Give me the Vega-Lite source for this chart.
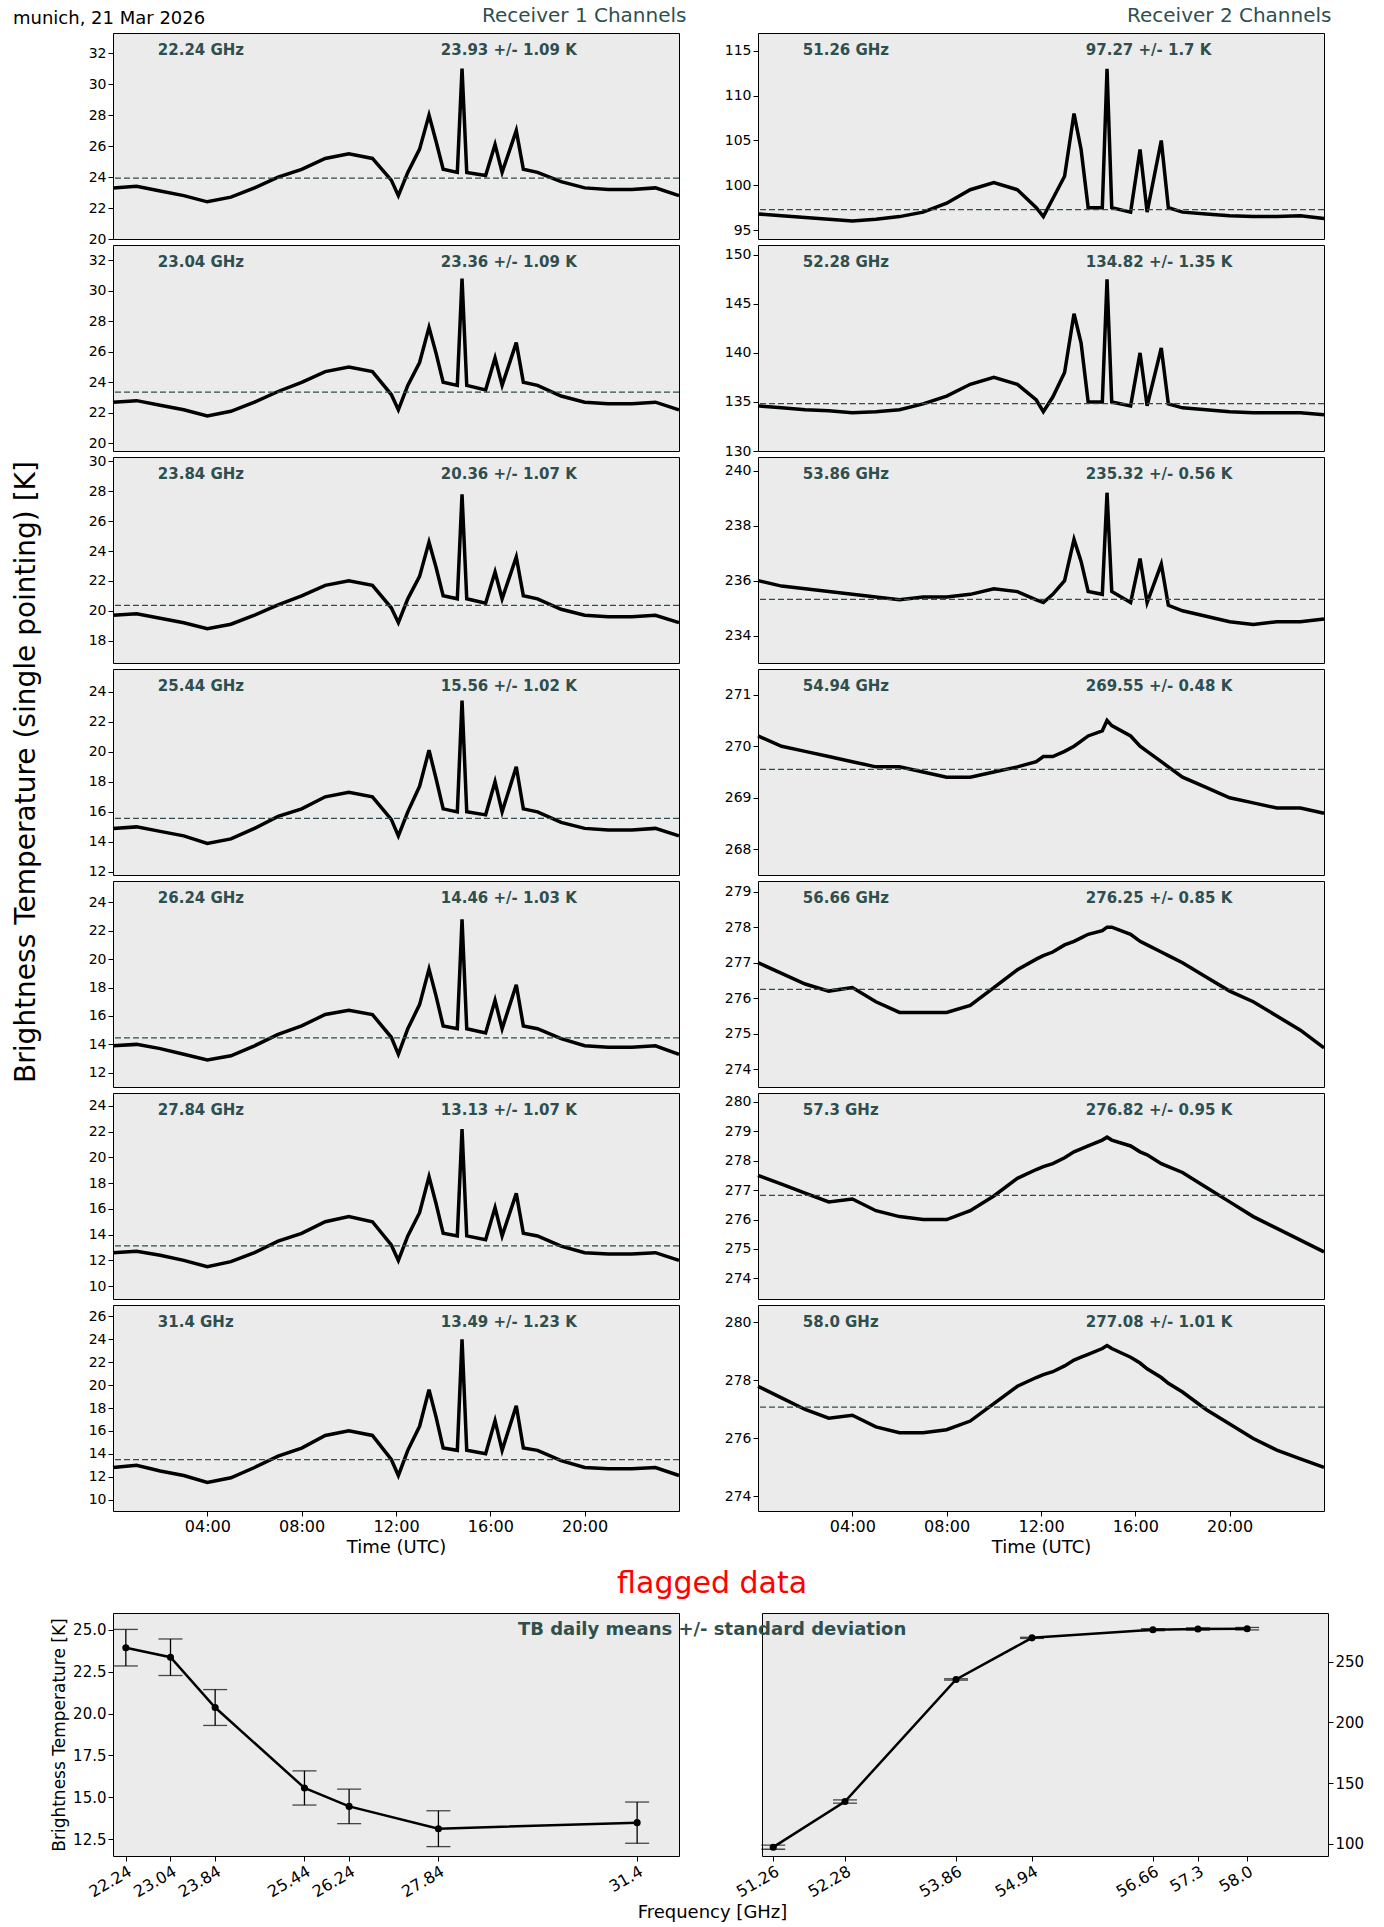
{
  "$schema": "https://vega.github.io/schema/vega-lite/v6.json",
  "background": "white",
  "padding": {"left": 12, "top": 5, "right": 5, "bottom": 5},
  "config": {
    "font": "DejaVu Sans",
    "view": {"fill": "#ebebeb", "stroke": "black"},
    "axis": {"grid": false, "labelColor": "black", "tickColor": "black", "domain": false, "labelFontSize": 14, "titleFontWeight": "normal", "titleColor": "black"}
  },
  "title": {"text": "munich, 21 Mar 2026", "anchor": "start", "fontSize": 18, "fontWeight": "normal", "color": "black", "dy": 26},
  "datasets": {
    "info": [
      {"k": "a1", "label": "22.24 GHz", "mean": 23.93, "txt": "23.93 +/- 1.09 K", "lo": 20, "hi": 33.3},
      {"k": "a2", "label": "23.04 GHz", "mean": 23.36, "txt": "23.36 +/- 1.09 K", "lo": 19.5, "hi": 33},
      {"k": "a3", "label": "23.84 GHz", "mean": 20.36, "txt": "20.36 +/- 1.07 K", "lo": 16.5, "hi": 30.3},
      {"k": "a4", "label": "25.44 GHz", "mean": 15.56, "txt": "15.56 +/- 1.02 K", "lo": 11.8, "hi": 25.5},
      {"k": "a5", "label": "26.24 GHz", "mean": 14.46, "txt": "14.46 +/- 1.03 K", "lo": 11, "hi": 25.5},
      {"k": "a6", "label": "27.84 GHz", "mean": 13.13, "txt": "13.13 +/- 1.07 K", "lo": 9, "hi": 25},
      {"k": "a7", "label": "31.4 GHz", "mean": 13.49, "txt": "13.49 +/- 1.23 K", "lo": 9, "hi": 27},
      {"k": "b1", "label": "51.26 GHz", "mean": 97.27, "txt": "97.27 +/- 1.7 K", "lo": 94, "hi": 117},
      {"k": "b2", "label": "52.28 GHz", "mean": 134.82, "txt": "134.82 +/- 1.35 K", "lo": 130, "hi": 151},
      {"k": "b3", "label": "53.86 GHz", "mean": 235.32, "txt": "235.32 +/- 0.56 K", "lo": 233, "hi": 240.5},
      {"k": "b4", "label": "54.94 GHz", "mean": 269.55, "txt": "269.55 +/- 0.48 K", "lo": 267.5, "hi": 271.5},
      {"k": "b5", "label": "56.66 GHz", "mean": 276.25, "txt": "276.25 +/- 0.85 K", "lo": 273.5, "hi": 279.3},
      {"k": "b6", "label": "57.3 GHz", "mean": 276.82, "txt": "276.82 +/- 0.95 K", "lo": 273.3, "hi": 280.3},
      {"k": "b7", "label": "58.0 GHz", "mean": 277.08, "txt": "277.08 +/- 1.01 K", "lo": 273.5, "hi": 280.6}
    ],
    "ts": [
      {"t": 0, "a1": 23.3, "a2": 22.7, "a3": 19.7, "a4": 14.9, "a5": 13.9, "a6": 12.6, "a7": 12.8, "b1": 96.8, "b2": 134.6, "b3": 236.0, "b4": 270.2, "b5": 277.0, "b6": 277.5, "b7": 277.8},
      {"t": 1, "a1": 23.4, "a2": 22.8, "a3": 19.8, "a4": 15.0, "a5": 14.0, "a6": 12.7, "a7": 13.0, "b1": 96.6, "b2": 134.4, "b3": 235.8, "b4": 270.0, "b5": 276.7, "b6": 277.2, "b7": 277.4},
      {"t": 2, "a1": 23.1, "a2": 22.5, "a3": 19.5, "a4": 14.7, "a5": 13.7, "a6": 12.4, "a7": 12.5, "b1": 96.4, "b2": 134.2, "b3": 235.7, "b4": 269.9, "b5": 276.4, "b6": 276.9, "b7": 277.0},
      {"t": 3, "a1": 22.8, "a2": 22.2, "a3": 19.2, "a4": 14.4, "a5": 13.3, "a6": 12.0, "a7": 12.1, "b1": 96.2, "b2": 134.1, "b3": 235.6, "b4": 269.8, "b5": 276.2, "b6": 276.6, "b7": 276.7},
      {"t": 4, "a1": 22.4, "a2": 21.8, "a3": 18.8, "a4": 13.9, "a5": 12.9, "a6": 11.5, "a7": 11.5, "b1": 96.0, "b2": 133.9, "b3": 235.5, "b4": 269.7, "b5": 276.3, "b6": 276.7, "b7": 276.8},
      {"t": 5, "a1": 22.7, "a2": 22.1, "a3": 19.1, "a4": 14.2, "a5": 13.2, "a6": 11.9, "a7": 11.9, "b1": 96.2, "b2": 134.0, "b3": 235.4, "b4": 269.6, "b5": 275.9, "b6": 276.3, "b7": 276.4},
      {"t": 6, "a1": 23.3, "a2": 22.7, "a3": 19.7, "a4": 14.9, "a5": 13.9, "a6": 12.6, "a7": 12.8, "b1": 96.5, "b2": 134.2, "b3": 235.3, "b4": 269.6, "b5": 275.6, "b6": 276.1, "b7": 276.2},
      {"t": 7, "a1": 24.0, "a2": 23.4, "a3": 20.4, "a4": 15.7, "a5": 14.7, "a6": 13.5, "a7": 13.8, "b1": 97.0, "b2": 134.8, "b3": 235.4, "b4": 269.5, "b5": 275.6, "b6": 276.0, "b7": 276.2},
      {"t": 8, "a1": 24.5, "a2": 24.0, "a3": 21.0, "a4": 16.2, "a5": 15.3, "a6": 14.1, "a7": 14.5, "b1": 98.0, "b2": 135.6, "b3": 235.4, "b4": 269.4, "b5": 275.6, "b6": 276.0, "b7": 276.3},
      {"t": 9, "a1": 25.2, "a2": 24.7, "a3": 21.7, "a4": 17.0, "a5": 16.1, "a6": 15.0, "a7": 15.6, "b1": 99.5, "b2": 136.8, "b3": 235.5, "b4": 269.4, "b5": 275.8, "b6": 276.3, "b7": 276.6},
      {"t": 10, "a1": 25.5, "a2": 25.0, "a3": 22.0, "a4": 17.3, "a5": 16.4, "a6": 15.4, "a7": 16.0, "b1": 100.3, "b2": 137.5, "b3": 235.7, "b4": 269.5, "b5": 276.3, "b6": 276.8, "b7": 277.2},
      {"t": 11, "a1": 25.2, "a2": 24.7, "a3": 21.7, "a4": 17.0, "a5": 16.1, "a6": 15.0, "a7": 15.6, "b1": 99.5, "b2": 136.8, "b3": 235.6, "b4": 269.6, "b5": 276.8, "b6": 277.4, "b7": 277.8},
      {"t": 11.8, "a1": 23.8, "a2": 23.2, "a3": 20.2, "a4": 15.5, "a5": 14.5, "a6": 13.2, "a7": 13.5, "b1": 97.5, "b2": 135.2, "b3": 235.3, "b4": 269.7, "b5": 277.1, "b6": 277.7, "b7": 278.1},
      {"t": 12.1, "a1": 22.8, "a2": 22.2, "a3": 19.2, "a4": 14.4, "a5": 13.3, "a6": 12.0, "a7": 12.1, "b1": 96.5, "b2": 134.0, "b3": 235.2, "b4": 269.8, "b5": 277.2, "b6": 277.8, "b7": 278.2},
      {"t": 12.5, "a1": 24.3, "a2": 23.8, "a3": 20.8, "a4": 16.0, "a5": 15.1, "a6": 13.9, "a7": 14.3, "b1": 98.5, "b2": 135.5, "b3": 235.5, "b4": 269.8, "b5": 277.3, "b6": 277.9, "b7": 278.3},
      {"t": 13.0, "a1": 25.8, "a2": 25.3, "a3": 22.3, "a4": 17.7, "a5": 16.8, "a6": 15.7, "a7": 16.4, "b1": 101, "b2": 138, "b3": 236.0, "b4": 269.9, "b5": 277.5, "b6": 278.1, "b7": 278.5},
      {"t": 13.4, "a1": 28.0, "a2": 27.6, "a3": 24.6, "a4": 20.1, "a5": 19.3, "a6": 18.5, "a7": 19.6, "b1": 108, "b2": 144, "b3": 237.5, "b4": 270.0, "b5": 277.6, "b6": 278.3, "b7": 278.7},
      {"t": 13.7, "a1": 26.3, "a2": 25.9, "a3": 22.9, "a4": 18.2, "a5": 17.4, "a6": 16.4, "a7": 17.2, "b1": 104, "b2": 141, "b3": 236.7, "b4": 270.1, "b5": 277.7, "b6": 278.4, "b7": 278.8},
      {"t": 14.0, "a1": 24.5, "a2": 24.0, "a3": 21.0, "a4": 16.2, "a5": 15.3, "a6": 14.1, "a7": 14.5, "b1": 97.5, "b2": 135, "b3": 235.6, "b4": 270.2, "b5": 277.8, "b6": 278.5, "b7": 278.9},
      {"t": 14.6, "a1": 24.3, "a2": 23.8, "a3": 20.8, "a4": 16.0, "a5": 15.1, "a6": 13.9, "a7": 14.3, "b1": 97.5, "b2": 135, "b3": 235.5, "b4": 270.3, "b5": 277.9, "b6": 278.7, "b7": 279.1},
      {"t": 14.8, "a1": 31.0, "a2": 30.8, "a3": 27.8, "a4": 23.4, "a5": 22.8, "a6": 22.2, "a7": 24.0, "b1": 113, "b2": 147.5, "b3": 239.2, "b4": 270.5, "b5": 278.0, "b6": 278.8, "b7": 279.2},
      {"t": 15.0, "a1": 24.3, "a2": 23.8, "a3": 20.8, "a4": 16.0, "a5": 15.1, "a6": 13.9, "a7": 14.3, "b1": 97.5, "b2": 135, "b3": 235.6, "b4": 270.4, "b5": 278.0, "b6": 278.7, "b7": 279.1},
      {"t": 15.8, "a1": 24.1, "a2": 23.5, "a3": 20.5, "a4": 15.8, "a5": 14.8, "a6": 13.6, "a7": 14.0, "b1": 97, "b2": 134.6, "b3": 235.2, "b4": 270.2, "b5": 277.8, "b6": 278.5, "b7": 278.8},
      {"t": 16.2, "a1": 26.1, "a2": 25.6, "a3": 22.6, "a4": 18.0, "a5": 17.1, "a6": 16.1, "a7": 16.9, "b1": 104, "b2": 140, "b3": 236.8, "b4": 270.0, "b5": 277.6, "b6": 278.3, "b7": 278.6},
      {"t": 16.5, "a1": 24.3, "a2": 23.8, "a3": 20.8, "a4": 16.0, "a5": 15.1, "a6": 13.9, "a7": 14.3, "b1": 97, "b2": 134.6, "b3": 235.2, "b4": 269.9, "b5": 277.5, "b6": 278.2, "b7": 278.4},
      {"t": 17.1, "a1": 27.0, "a2": 26.6, "a3": 23.6, "a4": 19.0, "a5": 18.2, "a6": 17.2, "a7": 18.2, "b1": 105, "b2": 140.5, "b3": 236.6, "b4": 269.7, "b5": 277.3, "b6": 277.9, "b7": 278.1},
      {"t": 17.4, "a1": 24.5, "a2": 24.0, "a3": 21.0, "a4": 16.2, "a5": 15.3, "a6": 14.1, "a7": 14.5, "b1": 97.5, "b2": 134.8, "b3": 235.1, "b4": 269.6, "b5": 277.2, "b6": 277.8, "b7": 277.9},
      {"t": 18, "a1": 24.3, "a2": 23.8, "a3": 20.8, "a4": 16.0, "a5": 15.1, "a6": 13.9, "a7": 14.3, "b1": 97, "b2": 134.4, "b3": 234.9, "b4": 269.4, "b5": 277.0, "b6": 277.6, "b7": 277.6},
      {"t": 19, "a1": 23.7, "a2": 23.1, "a3": 20.1, "a4": 15.3, "a5": 14.4, "a6": 13.1, "a7": 13.4, "b1": 96.8, "b2": 134.2, "b3": 234.7, "b4": 269.2, "b5": 276.6, "b6": 277.1, "b7": 277.0},
      {"t": 20, "a1": 23.3, "a2": 22.7, "a3": 19.7, "a4": 14.9, "a5": 13.9, "a6": 12.6, "a7": 12.8, "b1": 96.6, "b2": 134.0, "b3": 234.5, "b4": 269.0, "b5": 276.2, "b6": 276.6, "b7": 276.5},
      {"t": 21, "a1": 23.2, "a2": 22.6, "a3": 19.6, "a4": 14.8, "a5": 13.8, "a6": 12.5, "a7": 12.7, "b1": 96.5, "b2": 133.9, "b3": 234.4, "b4": 268.9, "b5": 275.9, "b6": 276.1, "b7": 276.0},
      {"t": 22, "a1": 23.2, "a2": 22.6, "a3": 19.6, "a4": 14.8, "a5": 13.8, "a6": 12.5, "a7": 12.7, "b1": 96.5, "b2": 133.9, "b3": 234.5, "b4": 268.8, "b5": 275.5, "b6": 275.7, "b7": 275.6},
      {"t": 23, "a1": 23.3, "a2": 22.7, "a3": 19.7, "a4": 14.9, "a5": 13.9, "a6": 12.6, "a7": 12.8, "b1": 96.6, "b2": 133.9, "b3": 234.5, "b4": 268.8, "b5": 275.1, "b6": 275.3, "b7": 275.3},
      {"t": 24, "a1": 22.8, "a2": 22.2, "a3": 19.2, "a4": 14.4, "a5": 13.3, "a6": 12.0, "a7": 12.1, "b1": 96.3, "b2": 133.7, "b3": 234.6, "b4": 268.7, "b5": 274.6, "b6": 274.9, "b7": 275.0}
    ],
    "means": [
      {"f": 22.24, "m": 23.93, "lo": 22.84, "hi": 25.02, "rx": 1},
      {"f": 23.04, "m": 23.36, "lo": 22.27, "hi": 24.45, "rx": 1},
      {"f": 23.84, "m": 20.36, "lo": 19.29, "hi": 21.43, "rx": 1},
      {"f": 25.44, "m": 15.56, "lo": 14.54, "hi": 16.58, "rx": 1},
      {"f": 26.24, "m": 14.46, "lo": 13.43, "hi": 15.49, "rx": 1},
      {"f": 27.84, "m": 13.13, "lo": 12.06, "hi": 14.2, "rx": 1},
      {"f": 31.4, "m": 13.49, "lo": 12.26, "hi": 14.72, "rx": 1},
      {"f": 51.26, "m": 97.27, "lo": 95.57, "hi": 98.97, "rx": 2},
      {"f": 52.28, "m": 134.82, "lo": 133.47, "hi": 136.17, "rx": 2},
      {"f": 53.86, "m": 235.32, "lo": 234.76, "hi": 235.88, "rx": 2},
      {"f": 54.94, "m": 269.55, "lo": 269.07, "hi": 270.03, "rx": 2},
      {"f": 56.66, "m": 276.25, "lo": 275.4, "hi": 277.1, "rx": 2},
      {"f": 57.3, "m": 276.82, "lo": 275.87, "hi": 277.77, "rx": 2},
      {"f": 58.0, "m": 277.08, "lo": 276.07, "hi": 278.09, "rx": 2}
    ]
  },
  "spacing": 12,
  "vconcat": [
    {
      "spacing": 36,
      "hconcat": [
        {
          "title": {"text": "Receiver 1 Channels", "anchor": "end", "fontSize": 20, "fontWeight": "normal", "color": "#2f4f4f"},
          "data": {"name": "ts"},
          "transform": [
            {"fold": ["a1", "a2", "a3", "a4", "a5", "a6", "a7"], "as": ["k", "v"]},
            {"lookup": "k", "from": {"data": {"name": "info"}, "key": "k", "fields": ["label", "mean", "txt", "lo", "hi"]}}
          ],
          "facet": {"row": {"field": "k", "header": {"labels": false, "title": "Brightness Temperature (single pointing) [K]", "titleFontSize": 28, "titleFontWeight": "normal", "titlePadding": 62}}},
          "spacing": 6,
          "bounds": "flush",
          "resolve": {"scale": {"y": "independent"}},
          "spec": {
            "width": 566,
            "height": 206,
            "layer": [
              {"mark": {"type": "line", "color": "black", "strokeWidth": 3.5},
               "encoding": {
                 "x": {"field": "t", "type": "quantitative", "scale": {"domain": [0, 24], "nice": false}, "title": "Time (UTC)", "axis": {"values": [4, 8, 12, 16, 20], "labelExpr": "(datum.value<10?'0':'')+datum.value+':00'", "labelFontSize": 16, "titleFontSize": 18}},
                 "y": {"field": "v", "type": "quantitative", "title": null, "scale": {"zero": false, "nice": false}, "axis": {"tickCount": 6}}}},
              {"transform": [{"filter": "datum.t==0"}], "mark": {"type": "rule", "color": "#2f4f4f", "strokeDash": [6, 3], "strokeWidth": 1.3},
               "encoding": {"y": {"field": "mean", "type": "quantitative", "title": null}}},
              {"transform": [{"filter": "datum.t==0"}], "mark": {"type": "point", "opacity": 0},
               "encoding": {"x": {"field": "t", "type": "quantitative"}, "y": {"field": "lo", "type": "quantitative", "title": null}}},
              {"transform": [{"filter": "datum.t==0"}], "mark": {"type": "point", "opacity": 0},
               "encoding": {"x": {"field": "t", "type": "quantitative"}, "y": {"field": "hi", "type": "quantitative", "title": null}}},
              {"transform": [{"filter": "datum.t==0"}], "mark": {"type": "text", "align": "left", "baseline": "top", "dy": 10, "fontSize": 15, "fontWeight": "bold", "color": "#2f4f4f"},
               "encoding": {"x": {"datum": 1.9}, "y": {"field": "hi", "type": "quantitative", "title": null}, "text": {"field": "label"}}},
              {"transform": [{"filter": "datum.t==0"}], "mark": {"type": "text", "align": "left", "baseline": "top", "dy": 10, "fontSize": 15, "fontWeight": "bold", "color": "#2f4f4f"},
               "encoding": {"x": {"datum": 13.9}, "y": {"field": "hi", "type": "quantitative", "title": null}, "text": {"field": "txt"}}}
            ]
          }
        },
        {
          "title": {"text": "Receiver 2 Channels", "anchor": "end", "fontSize": 20, "fontWeight": "normal", "color": "#2f4f4f"},
          "data": {"name": "ts"},
          "transform": [
            {"fold": ["b1", "b2", "b3", "b4", "b5", "b6", "b7"], "as": ["k", "v"]},
            {"lookup": "k", "from": {"data": {"name": "info"}, "key": "k", "fields": ["label", "mean", "txt", "lo", "hi"]}}
          ],
          "facet": {"row": {"field": "k", "header": {"labels": false, "title": null}}},
          "spacing": 6,
          "bounds": "flush",
          "resolve": {"scale": {"y": "independent"}},
          "spec": {
            "width": 566,
            "height": 206,
            "layer": [
              {"mark": {"type": "line", "color": "black", "strokeWidth": 3.5},
               "encoding": {
                 "x": {"field": "t", "type": "quantitative", "scale": {"domain": [0, 24], "nice": false}, "title": "Time (UTC)", "axis": {"values": [4, 8, 12, 16, 20], "labelExpr": "(datum.value<10?'0':'')+datum.value+':00'", "labelFontSize": 16, "titleFontSize": 18}},
                 "y": {"field": "v", "type": "quantitative", "title": null, "scale": {"zero": false, "nice": false}, "axis": {"tickCount": 5}}}},
              {"transform": [{"filter": "datum.t==0"}], "mark": {"type": "rule", "color": "#2f4f4f", "strokeDash": [6, 3], "strokeWidth": 1.3},
               "encoding": {"y": {"field": "mean", "type": "quantitative", "title": null}}},
              {"transform": [{"filter": "datum.t==0"}], "mark": {"type": "point", "opacity": 0},
               "encoding": {"x": {"field": "t", "type": "quantitative"}, "y": {"field": "lo", "type": "quantitative", "title": null}}},
              {"transform": [{"filter": "datum.t==0"}], "mark": {"type": "point", "opacity": 0},
               "encoding": {"x": {"field": "t", "type": "quantitative"}, "y": {"field": "hi", "type": "quantitative", "title": null}}},
              {"transform": [{"filter": "datum.t==0"}], "mark": {"type": "text", "align": "left", "baseline": "top", "dy": 10, "fontSize": 15, "fontWeight": "bold", "color": "#2f4f4f"},
               "encoding": {"x": {"datum": 1.9}, "y": {"field": "hi", "type": "quantitative", "title": null}, "text": {"field": "label"}}},
              {"transform": [{"filter": "datum.t==0"}], "mark": {"type": "text", "align": "left", "baseline": "top", "dy": 10, "fontSize": 15, "fontWeight": "bold", "color": "#2f4f4f"},
               "encoding": {"x": {"datum": 13.9}, "y": {"field": "hi", "type": "quantitative", "title": null}, "text": {"field": "txt"}}}
            ]
          }
        }
      ]
    },
    {
      "spacing": 83,
      "bounds": "flush",
      "resolve": {"scale": {"y": "independent"}},
      "hconcat": [
        {
          "width": 566,
          "height": 243,
          "data": {"name": "means"},
          "transform": [{"filter": "datum.rx==1"}],
          "layer": [
            {"mark": {"type": "rule", "color": "black", "strokeWidth": 1.3},
             "encoding": {
               "x": {"field": "f", "type": "quantitative", "scale": {"domain": [22.01, 32.15], "nice": false, "zero": false}, "axis": {"values": [22.24, 23.04, 23.84, 25.44, 26.24, 27.84, 31.4], "labelExpr": "format(datum.value,'.2~f')", "labelOverlap": false, "labelAngle": -30, "labelFontSize": 16, "labelAlign": "right", "labelBaseline": "top", "titleX": 599, "titleAlign": "center", "titleFontSize": 18}, "title": "Frequency [GHz]"},
               "y": {"field": "lo", "type": "quantitative", "scale": {"domain": [11.5, 26], "nice": false, "zero": false}, "title": "Brightness Temperature [K]", "axis": {"values": [12.5, 15, 17.5, 20, 22.5, 25], "labelExpr": "format(datum.value,'.1f')", "labelFontSize": 15, "titleFontSize": 17}},
               "y2": {"field": "hi"}}},
            {"mark": {"type": "tick", "orient": "horizontal", "size": 24, "color": "black", "thickness": 1.3},
             "encoding": {"x": {"field": "f", "type": "quantitative"}, "y": {"field": "lo", "type": "quantitative"}}},
            {"mark": {"type": "tick", "orient": "horizontal", "size": 24, "color": "black", "thickness": 1.3},
             "encoding": {"x": {"field": "f", "type": "quantitative"}, "y": {"field": "hi", "type": "quantitative"}}},
            {"mark": {"type": "line", "color": "black", "strokeWidth": 2.5, "point": {"color": "black", "size": 50, "filled": true}},
             "encoding": {"x": {"field": "f", "type": "quantitative"}, "y": {"field": "m", "type": "quantitative"}}}
          ]
        },
        {
          "width": 566,
          "height": 243,
          "data": {"name": "means"},
          "transform": [{"filter": "datum.rx==2"}],
          "layer": [
            {"mark": {"type": "rule", "color": "black", "strokeWidth": 1.3},
             "encoding": {
               "x": {"field": "f", "type": "quantitative", "scale": {"domain": [51.1, 59.15], "nice": false, "zero": false}, "axis": {"values": [51.26, 52.28, 53.86, 54.94, 56.66, 57.3, 58.0], "labelExpr": "datum.value==58?'58.0':format(datum.value,'.2~f')", "labelOverlap": false, "labelAngle": -30, "labelFontSize": 16, "labelAlign": "right", "labelBaseline": "top"}, "title": null},
               "y": {"field": "lo", "type": "quantitative", "scale": {"domain": [90, 290], "nice": false, "zero": false}, "title": null, "axis": {"orient": "right", "values": [100, 150, 200, 250], "labelFontSize": 15}},
               "y2": {"field": "hi"}}},
            {"mark": {"type": "tick", "orient": "horizontal", "size": 24, "color": "black", "thickness": 1.3},
             "encoding": {"x": {"field": "f", "type": "quantitative"}, "y": {"field": "lo", "type": "quantitative"}}},
            {"mark": {"type": "tick", "orient": "horizontal", "size": 24, "color": "black", "thickness": 1.3},
             "encoding": {"x": {"field": "f", "type": "quantitative"}, "y": {"field": "hi", "type": "quantitative"}}},
            {"mark": {"type": "line", "color": "black", "strokeWidth": 2.5, "point": {"color": "black", "size": 50, "filled": true}},
             "encoding": {"x": {"field": "f", "type": "quantitative"}, "y": {"field": "m", "type": "quantitative"}}},
            {"transform": [{"filter": "datum.f==51.26"}], "mark": {"type": "text", "align": "center", "fontSize": 18, "fontWeight": "bold", "color": "#2f4f4f", "baseline": "top", "dy": 8},
             "encoding": {"x": {"datum": 50.39}, "y": {"datum": 290}, "text": {"value": "TB daily means +/- standard deviation"}}},
            {"transform": [{"filter": "datum.f==51.26"}], "mark": {"type": "text", "align": "center", "fontSize": 30, "color": "red", "baseline": "bottom", "dy": -14},
             "encoding": {"x": {"datum": 50.39}, "y": {"datum": 290}, "text": {"value": "flagged data"}}}
          ]
        }
      ]
    }
  ]
}
